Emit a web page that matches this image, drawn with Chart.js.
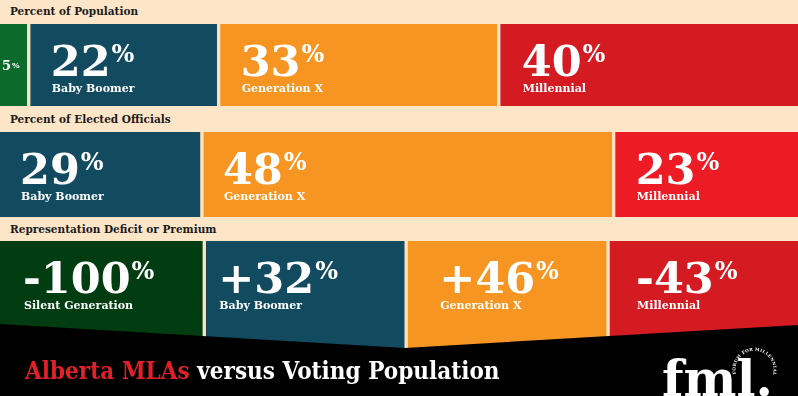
<!DOCTYPE html>
<html lang="en">
<head>
<meta charset="UTF-8" />
<title>Alberta MLAs versus Voting Population</title>
<script src="https://cdn.jsdelivr.net/npm/chart.js"></script>
<style>
  body {
    margin: 0;
    width: 798px;
    height: 396px;
    position: relative;
    overflow: hidden;
    background: #fde5c8;
    font-family: "DejaVu Serif", serif;
  }
  .row-title {
    position: absolute;
    left: 10px;
    font-size: 10.5px;
    line-height: 1;
    font-weight: bold;
    color: #1b1b1b;
    white-space: nowrap;
  }
  .row {
    position: absolute;
    left: 0;
    width: 798px;
  }
  .footer {
    position: absolute;
    left: 0;
    top: 310px;
    width: 798px;
    height: 86px;
    background: #000;
    clip-path: polygon(0 14px, 405px 38px, 798px 15px, 798px 86px, 0 86px);
  }
  .title {
    position: absolute;
    left: 25px;
    top: 359px;
    font-size: 24px;
    line-height: 1;
    font-weight: bold;
    color: #fff;
    white-space: nowrap;
    transform: scaleX(0.9);
    transform-origin: left top;
  }
  .title span { color: #e3202a; }
  .logo {
    position: absolute;
    left: 660px;
    top: 340px;
  }
</style>
</head>
<body>

<div class="footer"></div>
<div class="title"><span>Alberta MLAs</span> versus Voting Population</div>
<svg class="logo" width="138" height="56" viewBox="0 0 138 56">
  <defs>
    <path id="ring" d="M 76 34 A 19 19 0 1 1 113 34" />
  </defs>
  <text font-family="DejaVu Serif" font-weight="bold" font-size="4.2" fill="#fff" letter-spacing="0.3">
    <textPath href="#ring">FORUM FOR MILLENNIAL LEADERSHIP</textPath>
  </text>
  <text x="2" y="56" font-family="DejaVu Serif" font-weight="bold" font-size="50" fill="#fff">fml.</text>
</svg>

<script>
  const generations = ['Silent Generation', 'Baby Boomer', 'Generation X', 'Millennial'];
  const rowTitles = ['Percent of Population', 'Percent of Elected Officials', 'Representation Deficit or Premium'];

  // values printed on the blocks
  const populationPct = [5, 22, 33, 40];
  const officialsPct = [0, 29, 48, 23];
  const deficitPct = [-100, 32, 46, -43];

  // block lengths as drawn in the graphic (share of full width)
  const populationBar = [3.6, 23.8, 35.1, 37.5];
  const officialsBar = [0, 25.3, 51.6, 23.1];
  const deficitBar = [25.6, 25.3, 25.3, 23.8];

  const rows = [
    { title: rowTitles[0], bar: populationBar, pct: populationPct, signed: false,
      colors: ['#0c6a2b', '#124b5f', '#f69521', '#d41b22'], indent: [22, 22, 22, 23],
      top: 24, height: 82, titleTop: 6 },
    { title: rowTitles[1], bar: officialsBar, pct: officialsPct, signed: false,
      colors: ['#0c6a2b', '#124b5f', '#f69521', '#ed1c24'], indent: [22, 20, 21, 22],
      top: 132, height: 85, titleTop: 114 },
    { title: rowTitles[2], bar: deficitBar, pct: deficitPct, signed: true,
      colors: ['#013d11', '#124b5f', '#f69521', '#d41b22'], indent: [23, 14, 33, 28],
      top: 241, height: 109, titleTop: 224 }
  ];

  const gapColor = '#fde3c4';

  const blockLabels = {
    id: 'blockLabels',
    afterDatasetsDraw(chart) {
      const ctx = chart.ctx;
      ctx.save();
      ctx.fillStyle = '#fff';
      ctx.textBaseline = 'alphabetic';
      chart.data.datasets.forEach((ds, i) => {
        const bar = chart.getDatasetMeta(i).data[0];
        if (!bar) return;
        const left = Math.min(bar.x, bar.base);
        const width = Math.abs(bar.x - bar.base);
        const top = bar.y - bar.height / 2;
        const num = (ds.signed && ds.pct > 0 ? '+' : '') + ds.pct;

        if (width < 60) {
          ctx.font = 'bold 13px "DejaVu Serif"';
          ctx.fillText(num, left + 2, top + 46);
          const w = ctx.measureText(num).width;
          ctx.font = 'bold 8px "DejaVu Serif"';
          ctx.fillText('%', left + 3 + w, top + 44);
          return;
        }

        const x = left + ds.indent;
        ctx.font = 'bold 43px "DejaVu Serif"';
        ctx.fillText(num, x, top + 52);
        const w = ctx.measureText(num).width;
        ctx.font = 'bold 24px "DejaVu Serif"';
        ctx.fillText('%', x + w + 1, top + 38);
        ctx.font = 'bold 11px "DejaVu Serif"';
        ctx.fillText(ds.label, x + 1, top + 68);
      });
      ctx.restore();
    }
  };

  rows.forEach((row) => {
    const t = document.createElement('div');
    t.className = 'row-title';
    t.style.top = row.titleTop + 'px';
    t.textContent = row.title;
    document.body.appendChild(t);

    const box = document.createElement('div');
    box.className = 'row';
    box.style.top = row.top + 'px';
    box.style.height = row.height + 'px';
    const canvas = document.createElement('canvas');
    box.appendChild(canvas);
    document.body.insertBefore(box, document.querySelector('.footer'));

    const shown = generations.map((g, i) => i).filter((i) => row.bar[i] > 0);
    const datasets = shown.map((i, k) => ({
      label: generations[i],
      data: [row.bar[i]],
      pct: row.pct[i],
      signed: row.signed,
      indent: row.indent[i],
      backgroundColor: row.colors[i],
      borderColor: gapColor,
      borderSkipped: false,
      borderWidth: { left: k === 0 ? 0 : 2, right: k === shown.length - 1 ? 0 : 2, top: 0, bottom: 0 },
      barPercentage: 1,
      categoryPercentage: 1
    }));

    new Chart(canvas, {
      type: 'bar',
      data: { labels: [row.title], datasets: datasets },
      options: {
        indexAxis: 'y',
        responsive: true,
        maintainAspectRatio: false,
        animation: false,
        layout: { padding: 0 },
        scales: {
          x: { stacked: true, min: 0, max: 100, display: false },
          y: { stacked: true, display: false }
        },
        plugins: {
          legend: { display: false },
          tooltip: { enabled: false }
        }
      },
      plugins: [blockLabels]
    });
  });
</script>
</body>
</html>
